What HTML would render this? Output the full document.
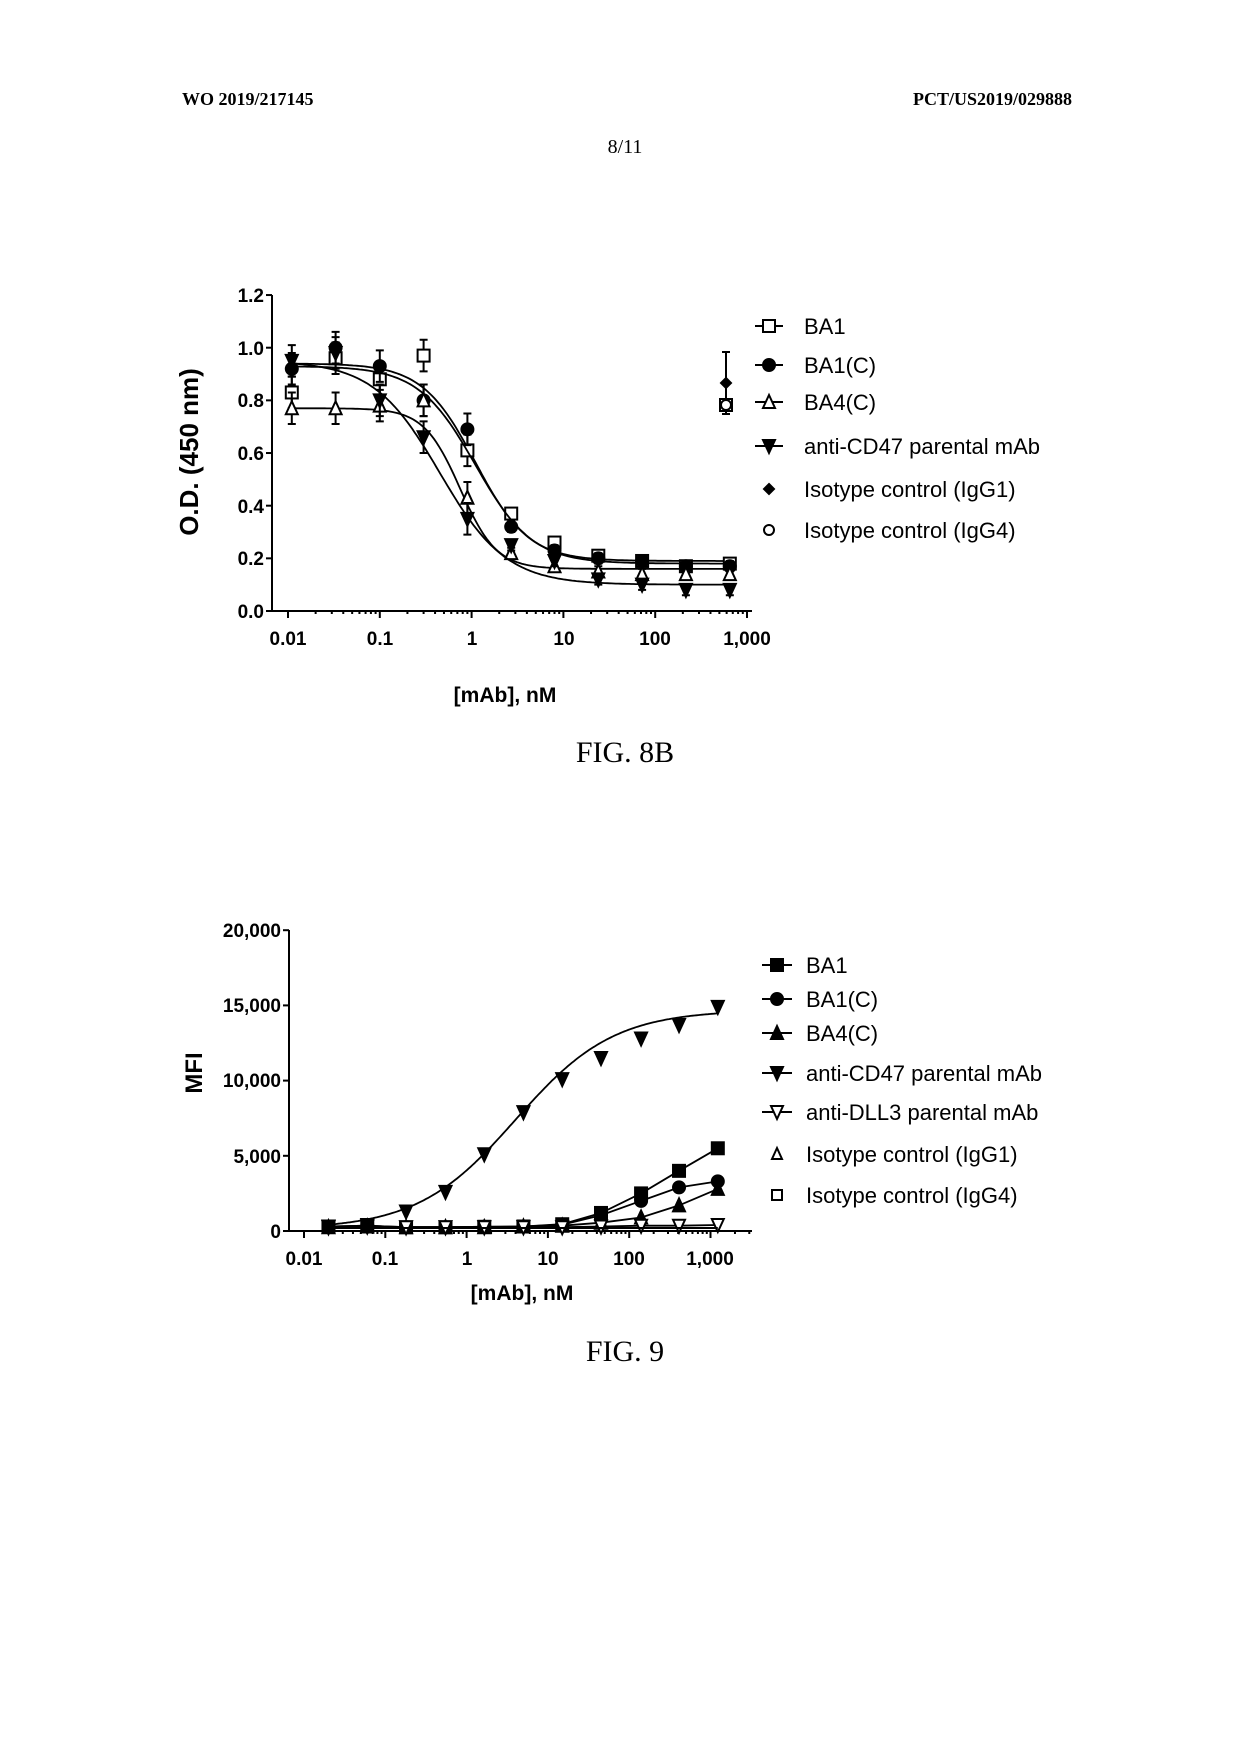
<!DOCTYPE html>
<html><head><meta charset="utf-8"><style>
body{margin:0;background:#fff;width:1239px;height:1754px;overflow:hidden}
svg{position:absolute;left:0;top:0}
.s{font-family:"Liberation Serif",serif}
.a{font-family:"Liberation Sans",sans-serif}
</style></head><body>
<svg id="g" width="1239" height="1754" viewBox="0 0 1239 1754">
<text class="s" x="182" y="105" font-size="18" font-weight="bold">WO 2019/217145</text>
<text class="s" x="1072" y="105" font-size="18" font-weight="bold" text-anchor="end">PCT/US2019/029888</text>
<text class="s" x="625" y="153" font-size="20" text-anchor="middle">8/11</text>
<text class="s" x="625" y="762" font-size="30" text-anchor="middle">FIG. 8B</text>
<text class="s" x="625" y="1361" font-size="30" text-anchor="middle">FIG. 9</text>
<g class="a" font-weight="bold" font-size="19" text-anchor="end">
<text x="264" y="302">1.2</text><text x="264" y="355">1.0</text><text x="264" y="407">0.8</text>
<text x="264" y="460">0.6</text><text x="264" y="513">0.4</text><text x="264" y="565">0.2</text><text x="264" y="618">0.0</text>
</g>
<g class="a" font-weight="bold" font-size="19" text-anchor="middle">
<text x="288" y="645">0.01</text><text x="380" y="645">0.1</text><text x="472" y="645">1</text>
<text x="564" y="645">10</text><text x="655" y="645">100</text><text x="747" y="645">1,000</text>
</g>
<text class="a" font-weight="bold" font-size="26" transform="translate(198,452) rotate(-90)" text-anchor="middle">O.D. (450 nm)</text>
<text class="a" font-weight="bold" font-size="21" x="505" y="702" text-anchor="middle">[mAb], nM</text>
<g class="a" font-size="22">
<text x="804" y="334">BA1</text><text x="804" y="373">BA1(C)</text><text x="804" y="410">BA4(C)</text>
<text x="804" y="454">anti-CD47 parental mAb</text><text x="804" y="497">Isotype control (IgG1)</text><text x="804" y="538">Isotype control (IgG4)</text>
</g>
<g class="a" font-weight="bold" font-size="19" text-anchor="end">
<text x="281" y="937">20,000</text><text x="281" y="1012">15,000</text><text x="281" y="1087">10,000</text>
<text x="281" y="1163">5,000</text><text x="281" y="1238">0</text>
</g>
<g class="a" font-weight="bold" font-size="19" text-anchor="middle">
<text x="304" y="1265">0.01</text><text x="385" y="1265">0.1</text><text x="467" y="1265">1</text>
<text x="548" y="1265">10</text><text x="629" y="1265">100</text><text x="710" y="1265">1,000</text>
</g>
<text class="a" font-weight="bold" font-size="24" transform="translate(202,1073) rotate(-90)" text-anchor="middle">MFI</text>
<text class="a" font-weight="bold" font-size="21" x="522" y="1300" text-anchor="middle">[mAb], nM</text>
<g class="a" font-size="22">
<text x="806" y="973">BA1</text><text x="806" y="1007">BA1(C)</text><text x="806" y="1041">BA4(C)</text>
<text x="806" y="1081">anti-CD47 parental mAb</text><text x="806" y="1120">anti-DLL3 parental mAb</text>
<text x="806" y="1162">Isotype control (IgG1)</text><text x="806" y="1203">Isotype control (IgG4)</text>
</g>
<g id="d" stroke="#000" fill="none" stroke-width="2"></g>
</svg>
<script>
var d=document.getElementById('d'),NS='http://www.w3.org/2000/svg';
function el(t,a){var e=document.createElementNS(NS,t);for(var k in a)e.setAttribute(k,a[k]);d.appendChild(e);return e}
function mk(t,x,y,r){r=r||6;var f=(t[0]=='f')?'#000':'#fff',s=t.slice(1);
 if(s=='sq')el('rect',{x:x-r,y:y-r,width:2*r,height:2*r,fill:f});
 else if(s=='ci')el('circle',{cx:x,cy:y,r:r,fill:f});
 else if(s=='tu')el('polygon',{points:(x)+','+(y-r-1)+' '+(x-r)+','+(y+r)+' '+(x+r)+','+(y+r),fill:f});
 else if(s=='td')el('polygon',{points:(x)+','+(y+r+1)+' '+(x-r)+','+(y-r)+' '+(x+r)+','+(y-r),fill:f});
 else if(s=='di')el('polygon',{points:x+','+(y-r)+' '+(x+r)+','+y+' '+x+','+(y+r)+' '+(x-r)+','+y,fill:f});}
// Fig 8B
var X1=function(v){return 288+91.8*(Math.log10(v)+2)},Y1=function(v){return 611-v*263.3};
el('path',{d:'M272,295V611H752'});
[0,0.2,0.4,0.6,0.8,1,1.2].forEach(function(v){el('path',{d:'M266,'+Y1(v)+'H272'})});
for(var k=-2;k<=3;k++){el('path',{d:'M'+X1(Math.pow(10,k))+',611v7'});for(var m=2;m<10;m++){var xx=X1(m*Math.pow(10,k));if(xx<752)el('path',{d:'M'+xx+',611v3'})}}
var xs=[0.011,0.033,0.1,0.3,0.9,2.7,8,24,72,216,650];
var S8=[
 {m:'osq',y:[.83,.96,.88,.97,.61,.37,.26,.21,.19,.17,.18],t:.94,b:.19,e:1.1,h:1.5},
 {m:'fci',y:[.92,1.0,.93,.80,.69,.32,.23,.20,.19,.17,.17],t:.93,b:.18,e:1.1,h:1.4},
 {m:'otu',y:[.77,.77,.78,.80,.43,.22,.17,.15,.14,.14,.14],t:.77,b:.16,e:0.75,h:2.2},
 {m:'ftd',y:[.95,.98,.80,.66,.35,.25,.19,.12,.10,.08,.08],t:.95,b:.10,e:0.45,h:1.2}];
S8.forEach(function(s){var p='';for(var i=0;i<=200;i++){var lx=Math.log10(0.011)+i/200*(Math.log10(650)-Math.log10(0.011)),v=Math.pow(10,lx);var y=s.b+(s.t-s.b)/(1+Math.pow(v/s.e,s.h));p+=(i?'L':'M')+X1(v).toFixed(1)+','+Y1(y).toFixed(1)}el('path',{d:p,'stroke-width':1.8});
 s.y.forEach(function(y,i){var x=X1(xs[i]),e=(i<5?0.06:0.02);el('path',{d:'M'+x+','+Y1(y-e)+'V'+Y1(y+e)+'M'+(x-4)+','+Y1(y-e)+'h8M'+(x-4)+','+Y1(y+e)+'h8'});mk(s.m,x,Y1(y))})});
el('path',{d:'M726,352V414M722,352h8M722,414h8'});mk('fdi',726,383,5);mk('osq',726,405,6);mk('oci',726,405,5);
var L8=[['osq',326],['fci',365],['otu',402],['ftd',446]];
L8.forEach(function(l){el('path',{d:'M755,'+l[1]+'h28'});mk(l[0],769,l[1],6)});mk('fdi',769,489,5);mk('oci',769,530,5);
// Fig 9
var X2=function(v){return 304+81.3*(Math.log10(v)+2)},Y2=function(v){return 1231-v*0.01504};
el('path',{d:'M289,930V1231H752'});
[0,5000,10000,15000,20000].forEach(function(v){el('path',{d:'M283,'+Y2(v)+'H289'})});
for(var k=-2;k<=3;k++){el('path',{d:'M'+X2(Math.pow(10,k))+',1231v7'});for(var m=2;m<10;m++){var xx=X2(m*Math.pow(10,k));if(xx<752)el('path',{d:'M'+xx+',1231v3'})}}
var x9=[0.02,0.06,0.18,0.55,1.65,5,15,45,140,410,1230];
var S9=[
 {m:'fsq',y:[300,350,250,250,280,300,450,1200,2500,4000,5500]},
 {m:'fci',y:[300,350,250,250,280,300,420,1050,2000,2900,3300]},
 {m:'ftu',y:[250,300,250,250,250,300,350,550,900,1700,2800]},
 {m:'otd',y:[250,300,250,250,250,250,250,300,350,350,400]},
 {m:'ftd',y:[300,400,1300,2600,5100,7900,10100,11500,12800,13700,14900],c:1}];
S9.forEach(function(s){var p='';if(s.c){for(var i=0;i<=200;i++){var lx=Math.log10(0.02)+i/200*(Math.log10(1230)-Math.log10(0.02)),v=Math.pow(10,lx);var y=100+(14700-100)/(1+Math.pow(4/v,0.72));p+=(i?'L':'M')+X2(v).toFixed(1)+','+Y2(y).toFixed(1)}}else{s.y.forEach(function(y,i){p+=(i?'L':'M')+X2(x9[i]).toFixed(1)+','+Y2(y).toFixed(1)})}
 el('path',{d:p,'stroke-width':1.8});s.y.forEach(function(y,i){mk(s.m,X2(x9[i]),Y2(y),6)})});
el('path',{d:'M'+X2(0.02)+','+Y2(200)+'H'+X2(1230)});
var L9=[['fsq',965],['fci',999],['ftu',1033],['ftd',1073],['otd',1112]];
L9.forEach(function(l){el('path',{d:'M762,'+l[1]+'h30'});mk(l[0],777,l[1],6)});mk('otu',777,1154,5);mk('osq',777,1195,5);
</script>
</body></html>
